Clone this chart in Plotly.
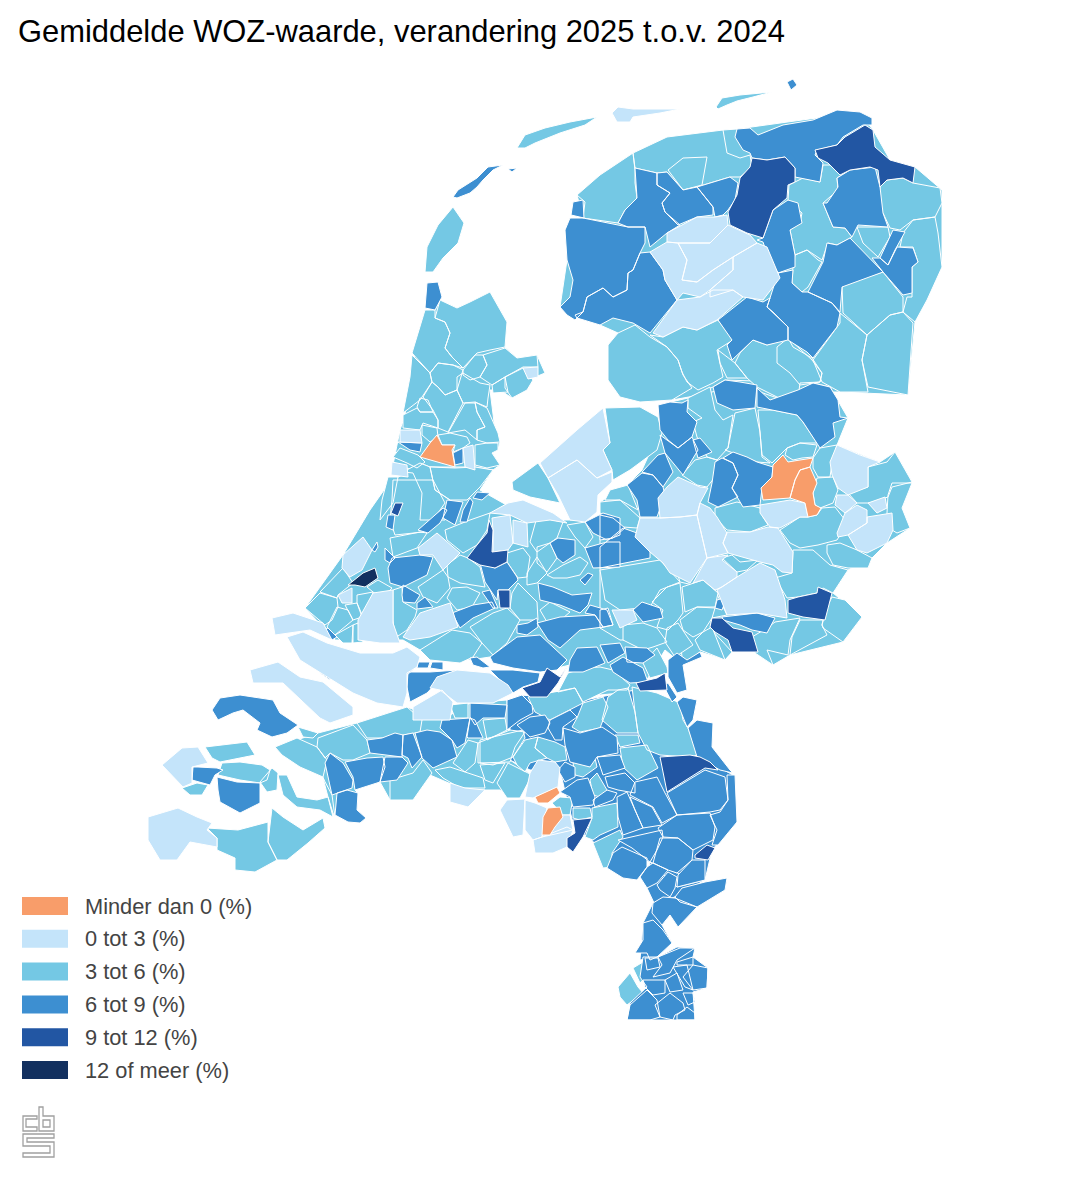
import plotly.graph_objects as go

# klassen en kleuren
LABELS = ["Minder dan 0 (%)", "0 tot 3 (%)", "3 tot 6 (%)", "6 tot 9 (%)", "9 tot 12 (%)", "12 of meer (%)"]
COLORS = ["#F89D6A", "#C4E4FA", "#74C8E4", "#3D8FD1", "#2256A3", "#12305F"]
TITLE = "Gemiddelde WOZ-waarde, verandering 2025 t.o.v. 2024"

# ondergrond, zodat er tussen de gemeenten geen gaten vallen
BASE_3_6 = [
    # Noord-Nederland
    [(577,195),(633,153),(723,130),(737,129),(860,112),(873,130),(890,160),(915,167),(942,190),(942,267),(915,322),(908,395),(840,392),(800,392),(783,400),(740,385),(700,395),(672,400),(640,402),(608,380),(608,345),(618,333),(600,325),(577,318),(560,307),(567,260),(565,230),(583,218)],
    # Noord-Holland
    [(425,310),(435,310),(440,300),(457,308),(470,302),(490,292),(507,322),(505,347),(517,358),(537,355),(545,373),(528,380),(512,398),(500,390),(490,390),(495,430),(500,442),(498,450),(492,453),(500,465),(493,470),(430,467),(392,470),(400,430),(405,415),(410,377)],
    # Overijssel en Gelderland
    [(658,405),(688,398),(713,387),(725,380),(813,383),(830,387),(848,418),(837,445),(880,462),(895,452),(912,482),(902,508),(910,528),(887,543),(872,558),(848,570),(833,593),(862,617),(843,642),(790,655),(773,665),(755,653),(745,640),(725,660),(700,652),(683,665),(680,640),(620,640),(600,628),(600,502),(627,485),(642,470),(660,430)],
    # Zuid-Holland en Utrecht
    [(391,480),(403,475),(420,463),(430,467),(475,467),(493,470),(480,490),(510,507),(550,520),(585,520),(620,518),(640,518),(660,518),(680,582),(715,590),(727,615),(712,618),(710,628),(732,652),(725,660),(700,652),(683,665),(665,650),(640,691),(600,695),(570,665),(540,672),(490,657),(470,660),(420,650),(403,640),(358,640),(335,640),(305,608),(343,555),(370,510)],
    # West-Brabant
    [(357,723),(407,707),(442,720),(470,703),(507,700),(510,760),(532,775),(520,798),(500,790),(465,790),(430,775),(413,800),(390,800),(380,782),(355,790),(358,793),(357,810),(366,818),(360,823),(335,815),(323,777),(300,767),(275,747),(318,733)],
]
BASE_6_9 = [
    [(510,700),(520,695),(585,700),(635,690),(660,695),(680,705),(690,730),(700,757),(733,775),(737,822),(712,850),(705,880),(677,887),(650,862),(613,855),(600,850),(590,838),(575,830),(567,800),(560,770),(530,770),(510,760)],
    [(650,862),(677,873),(705,880),(675,897),(655,905),(647,888)],
    [(643,923),(653,903),(675,897),(727,878),(725,890),(697,907),(678,927),(670,915),(662,925),(672,943),(657,957),(640,960)],
]

KLASSE_3_6 = [
    # Friesland, Groningen, Drenthe
    [(577,195),(600,175),(633,153),(635,170),(635,183),(637,198),(625,210),(618,223),(583,218),(585,202)],
    [(633,153),(667,137),(723,130),(727,153),(740,158),(750,155),(752,167),(740,177),(730,177),(697,187),(683,190),(667,172),(657,173),(635,168)],
    [(668,170),(683,158),(707,157),(702,185),(683,190)],
    [(823,165),(840,165),(850,170),(837,178),(838,190),(823,203),(833,227),(845,228),(852,237),(837,245),(828,243),(822,260),(807,250),(795,255),(790,230),(800,223),(802,213),(788,200),(789,185),(803,178),(820,182)],
    [(795,255),(807,250),(818,260),(822,262),(808,287),(802,292),(792,283),(793,267)],
    [(880,187),(887,180),(903,178),(913,183),(940,188),(942,203),(935,217),(913,220),(900,230),(890,228),(883,213),(878,210)],
    [(857,227),(888,227),(890,237),(878,257),(863,243)],
    [(903,233),(913,220),(935,217),(938,233),(942,267),(927,300),(915,322),(903,312),(907,297),(912,297),(912,267),(918,262),(913,247),(900,247)],
    [(842,285),(883,272),(903,297),(903,312),(890,315),(867,335),(843,313)],
    [(890,315),(903,312),(913,323),(908,395),(868,387),(862,360),(867,335)],
    [(840,313),(867,335),(862,360),(868,392),(840,392),(822,382),(813,360),(840,323)],
    [(753,340),(767,345),(777,342),(788,338),(793,347),(812,358),(822,373),(820,382),(800,383),(798,398),(783,400),(757,387),(747,378),(735,363),(740,353)],
    [(777,347),(788,338),(812,360),(822,373),(820,382),(800,385),(790,373),(777,363)],
    [(650,335),(663,337),(683,327),(697,330),(718,320),(733,340),(717,350),(723,377),(713,383),(698,390),(687,382),(682,372),(678,360),(667,347)],
    [(608,345),(618,333),(635,325),(650,337),(667,347),(678,360),(683,375),(692,388),(672,400),(640,402),(620,397),(608,380)],
    [(718,350),(732,360),(735,363),(747,378),(727,378),(720,363)],
    # Overijssel, Flevoland, Gelderland
    [(688,398),(710,387),(715,410),(723,420),(733,415),(728,448),(717,460),(707,457),(697,437),(693,422),(702,418),(688,408)],
    [(735,413),(755,408),(760,432),(762,457),(770,463),(757,462),(747,458),(725,450),(728,448)],
    [(758,410),(773,410),(797,415),(803,422),(817,443),(800,443),(787,448),(772,463),(762,455),(760,430)],
    [(787,448),(800,443),(817,445),(813,457),(802,458),(793,460),(785,455)],
    [(813,458),(820,448),(837,445),(832,463),(830,477),(818,477),(813,468)],
    [(817,478),(833,477),(838,490),(833,503),(820,508),(815,505),(813,493)],
    [(868,467),(887,462),(895,452),(912,482),(892,487),(888,497),(870,503),(857,503),(848,493),(868,487)],
    [(892,483),(912,483),(902,508),(910,528),(897,533),(887,527),(887,513),(888,495)],
    [(780,530),(800,517),(808,517),(817,515),(822,508),(835,507),(845,520),(840,535),(837,540),(818,545),(800,548),(790,543)],
    [(715,508),(737,502),(760,508),(763,517),(768,525),(750,532),(727,530),(715,517)],
    [(682,475),(695,460),(707,457),(717,460),(715,477),(707,487),(697,485)],
    [(722,558),(732,555),(740,562),(758,560),(747,570),(737,572)],
    [(793,550),(813,550),(830,565),(848,570),(833,593),(823,588),(817,593),(798,597),(787,598),(775,578),(792,573)],
    [(827,545),(840,543),(857,550),(872,558),(868,568),(848,568),(833,565),(827,553)],
    [(832,597),(845,600),(862,617),(843,642),(823,628),(822,625),(827,607)],
    [(800,620),(823,620),(822,625),(827,635),(790,655),(792,637)],
    [(775,622),(800,618),(790,640),(788,655),(767,650),(773,665),(755,653),(752,637),(767,628)],
    [(600,570),(660,560),(680,582),(660,590),(650,607),(620,610),(605,600)],
    [(600,502),(620,500),(640,518),(637,528),(623,527),(600,513)],
    [(610,490),(628,485),(638,510),(620,500),(605,500)],
    [(605,408),(640,407),(658,417),(662,433),(657,450),(630,470),(613,480),(612,470),(603,450),(610,443)],
    [(512,482),(538,463),(548,478),(560,503),(530,497),(513,490)],
    [(652,602),(667,587),(680,583),(682,600),(683,613),(678,620),(668,630),(657,627),(663,610)],
    [(682,587),(703,580),(718,593),(715,607),(697,607),(685,612)],
    [(680,620),(697,607),(715,608),(712,618),(703,632),(693,637),(683,630)],
    [(667,628),(678,623),(688,638),(693,645),(675,657),(665,642)],
    [(695,640),(703,632),(712,627),(725,660),(700,650)],
    [(623,625),(643,623),(657,628),(667,642),(653,647),(643,650),(623,640)],
    # Waddeneilanden en Noord-Holland
    [(453,207),(464,223),(458,243),(443,258),(433,272),(425,272),(427,247),(438,225)],
    [(517,148),(525,135),(545,128),(570,122),(597,117),(585,125),(560,133),(535,143),(525,148)],
    [(716,107),(722,98),(740,95),(772,92),(753,97),(737,101),(727,105),(718,109)],
    [(440,300),(457,308),(470,302),(490,292),(507,322),(505,347),(490,350),(477,353),(463,368),(452,357),(445,348),(450,333),(445,322),(435,318)],
    [(425,310),(435,310),(435,318),(445,322),(450,333),(445,348),(452,357),(463,368),(453,365),(438,363),(430,373),(412,353)],
    [(412,355),(430,373),(432,382),(423,395),(420,400),(403,413),(410,377)],
    [(430,373),(438,363),(453,365),(463,370),(457,390),(445,395),(438,387),(432,382)],
    [(463,370),(475,355),(483,355),(487,365),(480,377),(470,380),(463,375)],
    [(483,355),(505,348),(517,358),(537,355),(538,367),(523,367),(505,377),(492,385),(480,377),(487,365)],
    [(505,377),(523,368),(533,380),(527,390),(512,398),(505,388)],
    [(492,385),(505,377),(508,392),(493,393)],
    [(457,377),(463,373),(480,383),(490,385),(488,398),(487,407),(475,402),(463,403),(457,390)],
    [(432,382),(438,387),(445,395),(457,390),(463,403),(448,432),(438,428),(438,420),(433,410),(423,397)],
    [(420,398),(428,400),(433,412),(420,412),(417,407)],
    [(403,415),(417,408),(420,412),(433,412),(438,420),(438,428),(423,423),(420,430),(403,428)],
    [(465,403),(475,403),(477,412),(485,427),(477,430),(477,440),(465,430),(448,433)],
    [(475,402),(487,408),(498,433),(500,442),(487,443),(477,440),(477,430),(485,427),(477,412)],
    [(475,445),(487,443),(498,443),(498,450),(492,453),(500,465),(487,468),(475,465)],
    [(450,433),(467,437),(470,443),(463,448),(453,452),(455,445),(442,445),(438,435)],
    [(422,425),(437,428),(438,437),(430,442),(422,435)],
    [(393,457),(400,448),(418,455),(425,462),(417,468),(407,463)],
    [(430,467),(455,468),(475,467),(493,470),(480,487),(467,500),(450,500),(435,490)],
    [(403,472),(420,463),(430,467),(435,490),(450,500),(445,520),(420,520),(422,493),(413,473)],
    [(382,500),(388,477),(398,477),(393,503),(380,520)],
    # Zuid-Holland, Utrecht
    [(305,608),(320,593),(337,598),(338,607),(332,620),(325,625)],
    [(320,592),(343,568),(353,583),(338,595),(337,598)],
    [(327,627),(337,607),(348,610),(353,620),(335,635)],
    [(335,635),(353,625),(352,643),(343,643)],
    [(353,625),(358,623),(363,642),(353,643)],
    [(357,595),(373,592),(370,608),(363,617),(357,603)],
    [(345,605),(357,603),(362,617),(353,620)],
    [(367,587),(378,580),(392,588),(383,598),(373,592)],
    [(420,650),(452,630),(470,633),(482,643),(473,657),(460,663),(430,660)],
    [(470,627),(493,613),(507,608),(520,620),(507,643),(493,655),(482,643)],
    [(507,553),(523,548),(530,557),(527,577),(518,578),(507,562)],
    [(537,547),(550,543),(557,558),(547,572),(537,563)],
    [(393,480),(433,480),(445,503),(433,520),(423,532),(395,535),(390,520),(392,500)],
    [(390,538),(420,532),(427,533),(417,548),(393,557)],
    [(445,530),(470,520),(490,513),(487,530),(477,545),(463,553),(447,540)],
    [(447,565),(460,555),(468,558),(480,567),(485,587),(460,583),(448,577)],
    [(418,587),(443,570),(448,577),(450,588),(437,603),(423,597)],
    [(452,588),(467,587),(480,593),(472,607),(457,610),(447,598)],
    [(393,590),(402,587),(403,602),(417,610),(415,617),(407,630),(395,638),(393,620)],
    [(512,593),(518,583),(537,602),(538,620),(520,620),(510,608)],
    [(527,573),(537,557),(547,573),(537,583),(527,585)],
    [(547,575),(563,565),(580,557),(588,563),(580,575),(567,578),(553,578)],
    [(540,610),(550,602),(570,612),(563,618),(547,622)],
    [(530,542),(537,517),(563,522),(557,538),(537,552)],
    [(567,525),(585,522),(593,537),(585,548),(575,537)],
    # Zeeland en West-Brabant
    [(205,747),(223,745),(247,742),(255,755),(240,758),(220,762),(212,758)],
    [(182,788),(197,783),(208,785),(202,795),(190,795)],
    [(222,763),(240,762),(262,765),(270,770),(267,780),(260,783),(240,780),(218,775)],
    [(260,782),(272,768),(278,773),(277,790),(267,792)],
    [(298,727),(318,733),(313,738),(303,737)],
    [(275,747),(297,738),(317,747),(327,760),(323,777),(300,767),(282,755)],
    [(278,775),(287,775),(297,797),(317,800),(328,797),(333,817),(320,810),(297,807),(283,795)],
    [(323,778),(332,795),(335,817),(333,813),(328,797)],
    [(318,738),(353,725),(367,740),(370,753),(353,760),(343,760),(330,753),(325,758),(317,747)],
    [(357,723),(407,707),(422,720),(420,732),(387,738),(367,738)],
    [(483,720),(505,718),(507,730),(487,740)],
    [(390,780),(413,773),(423,760),(432,773),(413,800),(390,800)],
    [(435,770),(450,767),(465,772),(483,778),(485,788),(460,788),(443,778)],
    [(453,763),(468,740),(478,743),(475,763),(465,772)],
    [(478,743),(510,730),(525,732),(515,747),(510,762),(478,763)],
    [(480,765),(505,763),(493,783),(485,780)],
    [(508,763),(532,775),(520,798),(507,798),(497,783)],
    [(450,705),(468,703),(468,718),(455,718)],
    [(207,828),(238,830),(268,822),(268,842),(277,860),(255,872),(235,870),(235,858),(217,850),(217,838)],
    [(272,808),(283,817),(303,830),(323,818),(325,828),(308,843),(287,860),(277,860),(268,842)],
    # Brabant en Limburg
    [(558,692),(568,673),(585,668),(600,667),(613,670),(630,685),(627,690),(608,690),(583,702),(575,688)],
    [(643,663),(657,648),(667,667),(668,673),(650,678)],
    [(632,687),(657,693),(680,703),(683,720),(688,728),(698,755),(688,757),(660,755),(647,750),(638,733),(635,712)],
    [(602,720),(608,697),(618,690),(628,688),(635,712),(638,733),(617,733)],
    [(615,735),(638,735),(640,743),(620,747)],
    [(620,748),(647,745),(658,768),(637,780),(623,767)],
    [(528,697),(575,688),(583,703),(570,710),(550,720),(535,712)],
    [(577,718),(583,703),(603,697),(608,707),(600,728),(580,732),(572,727)],
    [(513,757),(525,740),(538,737),(535,748),(547,758),(530,763),(525,772),(517,765)],
    [(538,737),(555,742),(565,747),(567,760),(555,762),(547,758),(535,748)],
    [(480,740),(523,730),(525,738),(513,757),(493,765),(480,763)],
    [(552,803),(560,797),(573,798),(570,815),(563,815)],
    [(573,763),(595,758),(597,767),(583,777),(575,775)],
    [(590,780),(597,773),(607,790),(600,797),(593,795)],
    [(573,808),(590,808),(592,817),(580,820),(573,818)],
    [(592,808),(617,803),(618,827),(600,835),(593,840),(585,837),(592,818)],
    [(593,843),(620,830),(623,837),(612,853),(612,867),(603,868),(597,853)],
    [(618,987),(630,973),(638,987),(643,993),(627,1005),(620,997)],
    [(633,968),(643,962),(650,972),(640,983)],
]

KLASSE_6_9 = [
    [(573,202),(583,200),(584,218),(571,215)],
    [(635,168),(657,173),(657,185),(670,193),(662,203),(665,212),(680,225),(667,233),(650,247),(645,227),(628,227),(618,223),(625,210),(637,198)],
    [(657,173),(667,172),(683,190),(697,187),(713,207),(713,215),(697,217),(678,225),(665,212),(662,203),(670,193),(657,185)],
    [(697,187),(730,177),(738,183),(735,200),(728,210),(723,215),(715,217),(713,207)],
    [(565,230),(570,218),(583,218),(617,225),(628,227),(645,227),(645,243),(640,253),(633,270),(628,273),(627,290),(613,297),(603,288),(587,297),(583,312),(575,320),(567,315),(560,307),(570,297),(573,280),(567,260)],
    [(640,253),(650,252),(663,270),(665,280),(677,300),(650,333),(633,323),(613,318),(600,325),(577,318),(575,315),(583,312),(587,297),(603,288),(613,297),(627,290),(628,273),(633,270)],
    [(737,129),(750,128),(758,135),(783,125),(813,120),(837,110),(860,112),(872,118),(872,125),(863,125),(843,137),(837,145),(817,150),(815,155),(823,163),(820,182),(795,177),(795,168),(785,157),(767,160),(752,158),(750,153),(743,150),(735,137)],
    [(763,238),(773,210),(788,200),(798,203),(802,223),(790,230),(795,255),(795,267),(778,273),(768,257),(763,242),(757,240)],
    [(827,203),(838,187),(837,178),(850,170),(875,167),(880,187),(883,213),(888,227),(858,225),(852,237),(845,228),(833,227),(823,203)],
    [(893,230),(905,232),(895,250),(888,265),(880,258),(890,237)],
    [(897,247),(913,248),(918,262),(912,267),(912,293),(903,295),(883,272),(872,258),(880,258),(888,265)],
    [(850,238),(883,272),(842,287),(840,312),(832,303),(808,292),(823,262),(827,243),(837,245)],
    [(808,292),(832,303),(840,313),(837,327),(813,358),(807,352),(788,340),(788,327),(773,312),(767,307),(770,298),(778,273),(793,270),(792,283),(802,292)],
    [(718,320),(747,297),(763,302),(770,298),(767,307),(788,327),(788,340),(767,345),(753,340),(740,353),(732,360),(727,345),(732,340)],
    # Overijssel en Gelderland
    [(658,405),(670,402),(682,403),(688,400),(687,412),(697,422),(692,437),(678,448),(668,440),(660,430)],
    [(713,387),(725,380),(740,382),(757,385),(755,408),(733,410),(717,403)],
    [(757,388),(770,400),(798,390),(813,383),(830,387),(838,400),(840,417),(848,418),(833,423),(835,437),(820,448),(813,437),(803,422),(797,415),(773,410),(757,407)],
    [(723,458),(733,452),(747,457),(757,462),(773,467),(772,477),(762,488),(760,505),(743,507),(732,488),(738,475),(733,463)],
    [(715,462),(722,458),(733,463),(738,475),(732,488),(738,497),(718,507),(708,502),(712,483)],
    [(660,435),(670,442),(678,448),(692,437),(698,450),(683,475),(675,465),(665,453)],
    [(693,440),(700,438),(712,452),(698,458)],
    [(642,472),(658,455),(665,453),(673,472),(663,487),(653,475)],
    [(627,485),(642,473),(653,475),(663,487),(665,495),(657,517),(640,517),(637,500)],
    [(722,617),(757,613),(775,618),(767,633),(752,630),(740,625),(723,620)],
    [(600,547),(623,528),(637,533),(650,552),(650,558),(600,568)],
    [(600,515),(613,518),(625,528),(613,538),(600,540)],
    # eilanden en Randstad
    [(453,197),(458,190),(477,178),(488,167),(503,165),(493,170),(483,180),(477,187),(470,193),(457,198)],
    [(508,169),(517,168),(512,172)],
    [(787,82),(793,79),(797,85),(791,90)],
    [(427,283),(438,282),(442,297),(435,310),(425,308)],
    [(453,453),(463,448),(463,463),(455,465)],
    [(398,442),(422,443),(420,452),(410,450)],
    [(388,515),(395,515),(393,530),(386,527)],
    [(447,500),(463,502),(455,525),(443,518)],
    [(470,498),(473,502),(467,522),(460,522),(463,510)],
    [(443,508),(447,510),(440,523),(428,533),(418,530),(432,518)],
    [(477,492),(490,493),(482,500),(473,498)],
    [(392,558),(420,555),(433,557),(427,575),(403,587),(390,583),(388,568)],
    [(323,630),(328,628),(337,637),(332,640)],
    [(320,657),(330,653),(348,662),(363,663),(340,670),(330,680),(320,673),(323,663)],
    [(403,585),(408,588),(420,595),(415,603),(403,602),(402,595)],
    [(417,603),(425,597),(433,607),(417,609)],
    [(385,548),(395,558),(390,563),(385,560)],
    [(372,550),(377,542),(378,547),(375,552)],
    [(452,613),(473,605),(492,602),(495,608),(473,618),(460,628)],
    [(480,563),(495,568),(507,562),(517,577),(518,580),(508,590),(498,590),(497,600),(485,582)],
    [(482,592),(490,590),(498,608),(493,608)],
    [(538,583),(553,587),(572,595),(592,593),(588,605),(580,613),(560,605),(540,600)],
    [(537,623),(560,617),(595,615),(603,627),(580,630),(560,648),(548,640)],
    [(585,613),(590,605),(607,610),(613,625),(603,627),(595,615)],
    [(517,625),(528,623),(537,618),(538,627),(527,635),(517,633)],
    [(490,657),(517,637),(540,635),(567,660),(557,670),(540,672),(513,668),(493,663)],
    [(490,670),(513,670),(540,673),(538,682),(523,687),(513,693),(500,680)],
    [(470,658),(477,657),(490,667),(483,668),(473,665)],
    [(393,665),(400,662),(415,668),(407,675),(397,672)],
    [(403,660),(415,658),(417,665),(410,667)],
    [(418,662),(430,662),(428,668),(417,668)],
    [(432,662),(443,662),(443,670),(430,668)],
    [(408,672),(430,672),(458,670),(442,677),(427,693),(410,702),(407,687)],
    [(550,543),(558,538),(575,540),(575,555),(563,563),(557,558)],
    [(588,573),(593,575),(585,585),(580,580)],
    [(585,522),(603,513),(620,518),(620,535),(607,540),(593,533)],
    [(585,548),(607,542),(620,542),(620,567),(593,568)],
    [(633,610),(642,602),(660,608),(663,618),(643,622)],
    [(600,610),(608,608),(613,625),(600,628)],
    [(717,600),(727,597),(722,610),(715,608)],
    # Zeeland en West-Brabant
    [(212,710),(220,698),(240,695),(255,697),(273,700),(280,713),(298,725),(287,733),(272,737),(257,730),(260,723),(243,710),(233,713),(218,720)],
    [(193,767),(198,767),(217,768),(223,770),(215,775),(210,785),(192,780)],
    [(217,777),(237,782),(260,783),(260,803),(240,813),(220,802),(218,790)],
    [(325,763),(330,753),(343,763),(353,780),(352,788),(337,793),(332,795)],
    [(337,793),(347,790),(358,793),(357,810),(366,818),(360,823),(348,822),(335,815)],
    [(345,762),(367,758),(383,757),(385,767),(380,782),(355,790),(353,777)],
    [(367,740),(382,738),(395,733),(403,735),(402,757),(387,755),(370,753)],
    [(403,735),(413,733),(422,757),(412,768),(408,758),(402,755)],
    [(385,757),(402,757),(408,763),(397,780),(380,782)],
    [(415,733),(427,730),(440,732),(452,740),(457,757),(433,768),(422,758)],
    [(442,720),(470,718),(465,743),(457,748),(452,740),(440,728)],
    [(470,718),(475,720),(483,738),(468,738),(467,737)],
    [(470,703),(507,705),(505,718),(483,718),(475,725),(470,717)],
    # Brabant en Limburg
    [(570,660),(577,648),(597,647),(605,663),(583,672),(568,672)],
    [(600,645),(620,643),(625,653),(608,663)],
    [(625,647),(647,648),(655,655),(643,663),(627,662)],
    [(610,665),(623,657),(643,668),(648,682),(630,683),(613,672)],
    [(668,660),(677,653),(687,660),(700,652),(702,657),(683,665),(687,690),(677,693),(668,677)],
    [(663,685),(668,683),(677,697),(672,702)],
    [(677,702),(683,697),(697,700),(693,720),(687,727)],
    [(688,728),(697,720),(713,723),(712,747),(730,770),(733,773),(720,770),(703,760),(697,757)],
    [(667,793),(705,770),(725,777),(728,800),(720,810),(710,812),(677,815)],
    [(727,775),(735,775),(737,822),(718,845),(712,845),(717,830),(710,815),(720,812),(728,800)],
    [(635,782),(657,777),(665,793),(677,815),(662,823),(653,807),(630,795)],
    [(630,797),(652,807),(662,825),(643,828),(635,810)],
    [(617,797),(627,792),(635,810),(643,828),(623,835),(618,817)],
    [(658,828),(677,815),(710,813),(715,827),(713,840),(693,850),(678,838),(663,837)],
    [(618,840),(662,830),(663,837),(657,850),(650,862),(632,848)],
    [(660,838),(678,838),(693,850),(692,860),(677,873),(668,870),(653,863),(657,850)],
    [(613,853),(622,847),(647,858),(647,867),(637,880),(623,878),(607,868)],
    [(647,867),(653,863),(668,870),(657,883),(647,888),(640,877)],
    [(657,885),(668,872),(677,877),(675,888),(670,897),(660,890)],
    [(678,875),(692,860),(705,860),(705,880),(677,887)],
    [(675,897),(682,888),(705,882),(727,878),(725,890),(697,907),(680,902)],
    [(653,903),(663,897),(675,898),(697,907),(678,927),(670,915),(662,925),(652,913)],
    [(643,923),(653,920),(663,930),(672,943),(657,957),(650,960),(647,953),(635,953),(643,940)],
    [(643,957),(658,957),(677,947),(695,948),(693,957),(708,968),(707,988),(693,992),(695,1020),(672,1020),(627,1020),(630,1003),(647,987),(640,977)],
    [(645,958),(658,958),(660,967),(647,970)],
    [(658,957),(680,948),(695,948),(677,960),(670,973),(653,977),(662,965)],
    [(677,962),(693,957),(693,965),(677,965)],
    [(693,965),(708,968),(707,988),(693,990),(683,977)],
    [(673,967),(687,965),(693,990),(685,987)],
    [(643,980),(665,980),(665,993),(653,995),(645,987)],
    [(665,980),(677,973),(683,990),(670,992)],
    [(627,1020),(630,1005),(647,990),(657,1000),(660,1017),(650,1020)],
    [(655,1005),(670,993),(683,1003),(685,1010),(675,1015),(673,1020),(660,1017)],
    [(683,993),(693,993),(695,1002),(688,1005)],
    [(677,1015),(687,1007),(695,1013),(695,1020),(677,1020)],
    [(507,700),(522,695),(532,705),(533,713),(520,720),(507,730)],
    [(517,725),(530,717),(545,715),(550,723),(545,733),(530,737)],
    [(550,720),(570,710),(577,717),(563,727),(562,740),(555,740),(548,728)],
    [(563,728),(580,733),(602,727),(617,737),(618,753),(597,757),(590,767),(570,762),(565,745)],
    [(558,770),(565,762),(575,767),(575,777),(565,782)],
    [(560,792),(577,780),(588,778),(595,797),(593,805),(573,807),(570,797)],
    [(597,757),(620,755),(625,768),(603,775)],
    [(605,777),(625,773),(635,783),(635,793),(618,790),(608,787)],
    [(593,800),(607,790),(617,793),(613,800),(595,807)],
]

KLASSE_0_3 = [
    # Friesland
    [(653,333),(677,300),(700,297),(713,290),(733,290),(743,297),(717,320),(697,330),(683,327),(663,337)],
    [(650,252),(667,242),(678,243),(687,260),(682,280),(697,282),(713,270),(733,257),(733,270),(710,290),(700,297),(683,293),(677,300),(665,280),(663,270)],
    [(667,233),(697,217),(715,217),(727,215),(728,225),(710,243),(678,243),(667,242)],
    [(678,243),(710,243),(728,225),(750,235),(757,243),(733,257),(713,270),(697,282),(682,280),(687,260)],
    [(757,243),(767,247),(780,278),(763,300),(743,297),(733,290),(710,297),(710,290),(733,270),(733,257)],
    [(612,113),(618,107),(633,109),(680,109),(660,113),(633,117),(630,122),(617,122)],
    # Flevoland
    [(540,463),(577,430),(603,408),(610,443),(603,450),(612,470),(597,478),(577,460),(548,478)],
    [(548,478),(577,460),(597,478),(612,472),(612,482),(598,495),(597,512),(585,522),(570,520),(558,495)],
    # Overijssel en Gelderland
    [(837,445),(860,455),(880,462),(868,467),(868,487),(848,495),(838,488),(832,475),(830,462)],
    [(868,503),(885,497),(887,508),(877,513)],
    [(837,495),(848,495),(857,503),(845,513),(835,505)],
    [(857,505),(867,510),(867,523),(848,535),(838,537),(837,533),(845,513)],
    [(867,517),(892,513),(893,530),(887,543),(867,553),(857,550),(848,535),(867,523)],
    [(760,505),(790,500),(805,503),(808,517),(800,517),(780,528),(770,527),(760,513)],
    [(660,518),(658,498),(667,487),(678,477),(700,487),(708,488),(700,503),(697,515),(680,517)],
    [(640,518),(660,518),(680,517),(697,515),(707,558),(690,583),(670,573),(663,563),(650,552),(635,537)],
    [(697,515),(700,503),(710,508),(717,517),(727,533),(723,543),(728,553),(707,558)],
    [(727,532),(750,532),(768,527),(778,528),(793,552),(792,573),(782,572),(773,565),(760,562),(743,557),(728,553),(723,543)],
    [(707,558),(728,555),(722,560),(737,572),(737,577),(722,587),(715,590),(703,580),(693,583)],
    [(737,577),(760,563),(775,570),(785,600),(787,618),(757,613),(727,615),(717,590)],
    [(612,610),(633,610),(637,620),(620,628)],
    # Noord- en Zuid-Holland, Utrecht
    [(523,368),(538,367),(538,377),(528,379)],
    [(463,448),(473,445),(475,470),(465,467)],
    [(400,430),(420,430),(422,443),(400,442)],
    [(392,462),(407,465),(408,477),(391,475)],
    [(492,518),(510,515),(513,543),(508,550),(493,552),(493,530)],
    [(513,520),(527,523),(528,547),(513,543)],
    [(490,513),(508,503),(523,500),(553,513),(567,523),(550,520),(527,523),(510,515)],
    [(418,548),(437,533),(445,540),(460,553),(443,570),(433,555),(420,555)],
    [(343,555),(363,537),(372,550),(362,570),(350,577),(342,568)],
    [(338,595),(352,588),(352,603),(342,603)],
    [(358,620),(373,593),(393,590),(393,623),(400,643),(380,643),(358,640)],
    [(272,618),(293,613),(323,623),(332,640),(310,630),(275,635)],
    [(287,637),(303,632),(327,643),(360,653),(393,653),(407,647),(420,657),(417,667),(407,673),(407,693),(403,707),(377,703),(353,693),(327,677),(300,660)],
    [(403,637),(420,613),(450,603),(458,627),(430,637),(410,640)],
    [(437,677),(457,670),(490,673),(508,685),(513,693),(493,703),(457,703),(440,690),(430,688)],
    [(413,707),(442,690),(453,702),(450,720),(413,720)],
    # Zeeland en Brabant
    [(250,670),(278,662),(300,677),(323,682),(353,707),(353,715),(330,723),(320,718),(283,683),(253,683)],
    [(162,765),(182,748),(198,747),(208,763),(192,767),(192,783),(183,787)],
    [(148,817),(178,808),(197,817),(212,823),(207,830),(217,838),(217,847),(190,842),(177,860),(160,860),(148,840)],
    [(450,783),(465,788),(485,790),(468,807),(450,802)],
    [(530,773),(538,760),(555,762),(560,768),(558,787),(533,798),(525,797)],
    [(525,800),(535,803),(547,808),(542,837),(533,840),(525,830)],
    [(500,810),(507,800),(525,799),(523,830),(523,835),(513,837)],
    [(533,840),(542,837),(567,827),(573,830),(567,847),(553,853),(535,853)],
    [(547,808),(563,815),(570,815),(573,830),(542,837)],
]

KLASSE_9_12 = [
    [(752,158),(767,160),(785,157),(795,168),(795,182),(788,185),(787,198),(773,210),(763,238),(747,233),(730,225),(728,212),(737,195),(740,178),(750,167)],
    [(815,150),(837,145),(845,137),(865,125),(873,130),(875,147),(890,160),(915,167),(913,183),(903,178),(887,180),(880,187),(878,170),(870,167),(850,170),(840,175),(828,163),(818,158)],
    [(788,600),(798,597),(817,593),(818,587),(832,593),(825,620),(803,617),(788,613)],
    [(712,618),(722,618),(733,628),(752,632),(758,652),(732,652),(728,640),(715,632),(710,627)],
    [(395,503),(403,503),(398,516),(391,513)],
    [(489,520),(493,530),(492,552),(508,550),(507,562),(495,568),(480,565),(467,558),(477,545),(487,533)],
    [(498,590),(510,590),(510,608),(500,608)],
    [(522,688),(540,682),(547,668),(560,677),(568,665),(558,683),(547,697),(530,697)],
    [(636,683),(657,678),(665,673),(667,690),(640,691)],
    [(660,757),(690,755),(700,757),(710,762),(718,770),(705,768),(667,792)],
    [(695,855),(707,845),(715,848),(708,860),(695,858)],
    [(573,820),(592,818),(583,837),(573,852),(567,847),(567,838),(575,833)],
]

KLASSE_12 = [
    [(348,585),(363,573),(375,568),(378,578),(365,587),(355,585)],
]

KLASSE_MIN = [
    [(437,435),(442,445),(455,445),(452,450),(455,467),(420,457),(430,443)],
    [(783,455),(788,462),(800,460),(813,458),(810,467),(800,470),(795,480),(790,498),(763,500),(761,488),(772,477),(773,465)],
    [(800,470),(810,467),(817,483),(813,493),(815,505),(821,508),(817,515),(808,517),(805,503),(790,498),(795,480)],
    [(535,797),(557,787),(560,793),(548,803),(538,803)],
    [(548,808),(560,807),(563,817),(555,827),(550,835),(542,835),(543,817)],
]


def add_polygons(fig, polygons, color):
    xs, ys = [], []
    for poly in polygons:
        xs += [p[0] for p in poly] + [poly[0][0], None]
        ys += [p[1] for p in poly] + [poly[0][1], None]
    fig.add_trace(go.Scatter(x=xs, y=ys, mode="lines", fill="toself", fillcolor=color,
                             line=dict(color="#FFFFFF", width=1), hoverinfo="skip", showlegend=False))


fig = go.Figure()
add_polygons(fig, BASE_3_6, COLORS[2])
add_polygons(fig, BASE_6_9, COLORS[3])
add_polygons(fig, KLASSE_3_6, COLORS[2])
add_polygons(fig, KLASSE_6_9, COLORS[3])
add_polygons(fig, KLASSE_0_3, COLORS[1])
add_polygons(fig, KLASSE_9_12, COLORS[4])
add_polygons(fig, KLASSE_12, COLORS[5])
add_polygons(fig, KLASSE_MIN, COLORS[0])

# legenda
shapes = []
annotations = [dict(x=16, y=31, text=TITLE, showarrow=False, xanchor="left", yanchor="middle",
                    font=dict(size=30.9, color="#000000"))]
for i, (label, color) in enumerate(zip(LABELS, COLORS)):
    y = 906 + i * 32.8
    shapes.append(dict(type="rect", x0=22, x1=68, y0=y - 9, y1=y + 9, fillcolor=color, line_width=0))
    annotations.append(dict(x=83, y=y, text=label, showarrow=False, xanchor="left", yanchor="middle",
                            font=dict(size=21.8, color="#444444")))

# CBS-logo
LOGO = [
    "M37,1116 L23,1116 L23,1131 L37,1131 L37,1127 L26,1127 L26,1119 L37,1119 Z",
    "M39,1107 L43,1107 L43,1116 L54,1116 L54,1131 L39,1131 Z M43,1120 L50,1120 L50,1127 L43,1127 Z",
    "M23,1134 L54,1134 L54,1138 L27,1138 L27,1142 L54,1142 L54,1157 L23,1157 L23,1153 L50,1153 L50,1146 L23,1146 Z",
]
for path in LOGO:
    shapes.append(dict(type="path", path=path, line=dict(color="#A0A0A0", width=1.3)))

fig.update_layout(
    width=1090, height=1181,
    margin=dict(l=0, r=0, t=0, b=0),
    paper_bgcolor="white", plot_bgcolor="white",
    font=dict(family="Liberation Sans, Arial, sans-serif"),
    xaxis=dict(range=[0, 1090], visible=False, fixedrange=True),
    yaxis=dict(range=[1181, 0], visible=False, fixedrange=True),
    shapes=shapes, annotations=annotations, showlegend=False,
)
fig.write_html("out.html", config=dict(displayModeBar=False), post_script="document.body.style.margin='0';")
